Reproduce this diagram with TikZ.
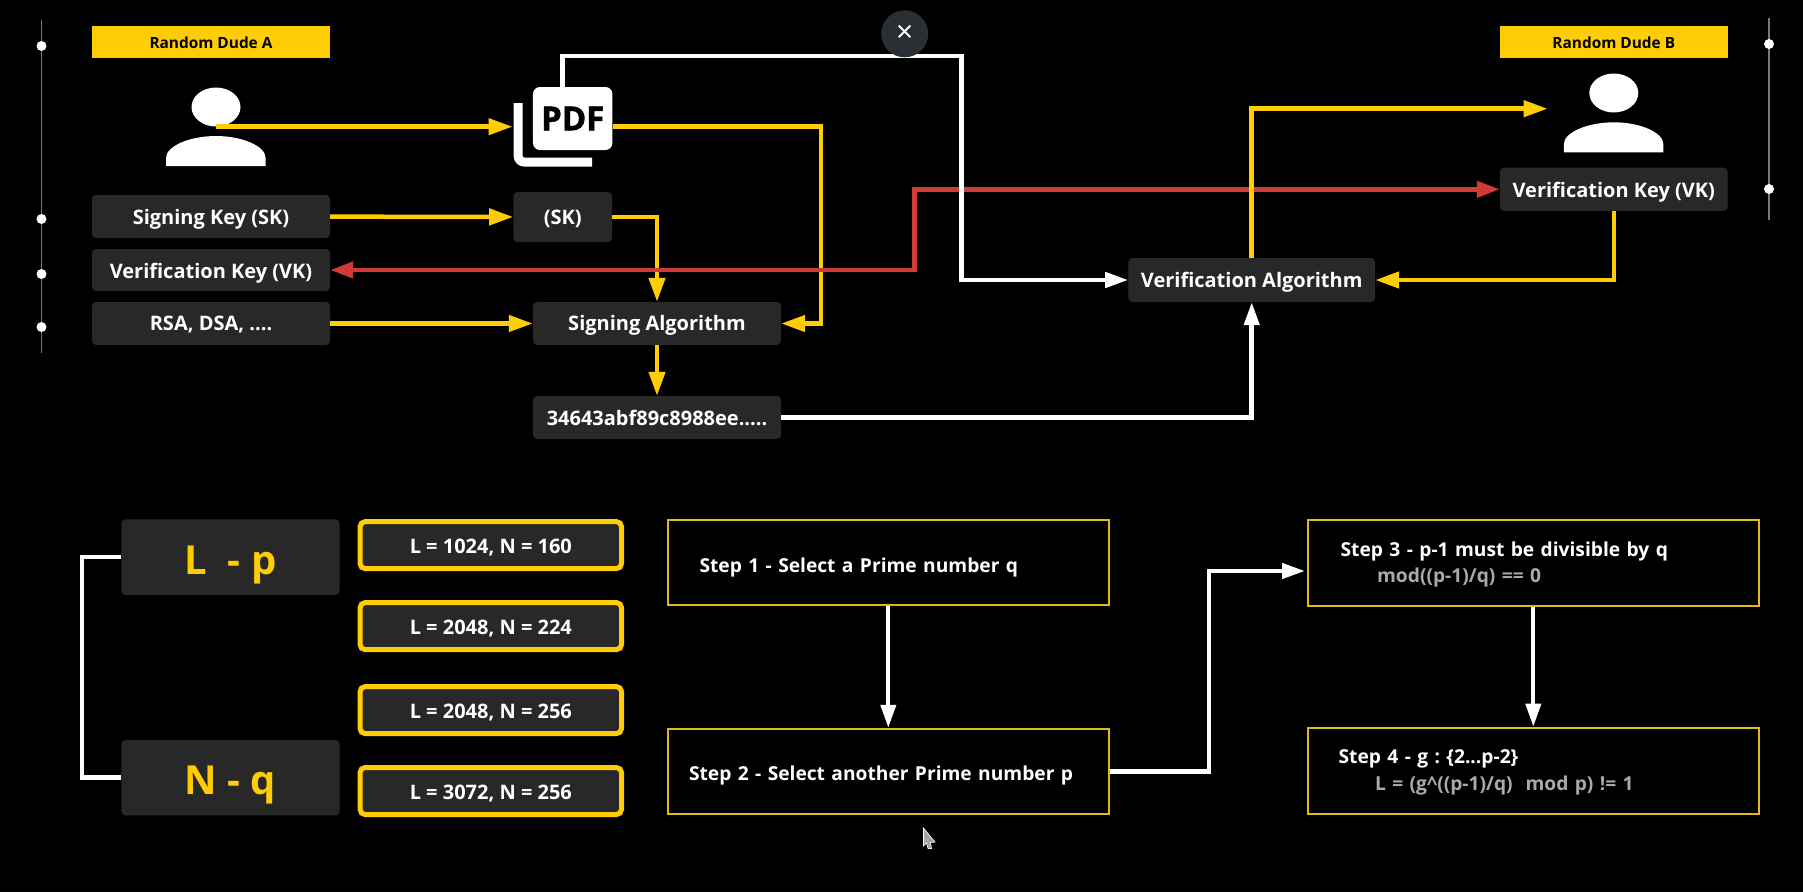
\documentclass[tikz,border=0pt]{standalone}
\usepackage{fontspec}
\setmainfont{Open Sans}
\usepackage{color}
\definecolor{myyellow}{RGB}{255,205,5}
\definecolor{myred}{RGB}{208,58,55}
\definecolor{mybox}{RGB}{40,40,40}
\definecolor{mystep}{RGB}{222,186,30}
\definecolor{myrail}{RGB}{120,120,120}
\definecolor{myclose}{RGB}{41,47,53}
\usepackage{tikz}
\usetikzlibrary{arrows.meta,positioning,shapes.geometric}
\tikzstyle{bannerbox}=[fill=myyellow,text=black,inner sep=0pt,text height=22pt,text depth=10pt,font=\fontsize{15.4}{17}\selectfont\bfseries]
\tikzstyle{keybox}=[fill=mybox,text=white,rounded corners=4pt,inner sep=0pt,text height=29pt,text depth=14pt,font=\fontsize{20}{24}\selectfont\bfseries]
\tikzstyle{namebox}=[fill=mybox,text=myyellow,rounded corners=4pt,inner sep=0pt,minimum width=218.3pt,text height=55pt,text depth=20.5pt,font=\fontsize{40}{44}\selectfont\bfseries]
\tikzstyle{sizebox}=[draw=myyellow,line width=5pt,fill=mybox,text=white,rounded corners=5pt,inner sep=0pt,minimum width=261.4pt,text height=32pt,text depth=15pt,font=\fontsize{20}{24}\selectfont\bfseries]
\tikzstyle{stepbox}=[draw=mystep,line width=2pt,text=white,inner ysep=0pt,align=left,font=\fontsize{19.2}{26.7}\selectfont\bfseries]
\tikzstyle{yline}=[draw=myyellow,line width=4.5pt,>={Triangle[length=24pt,width=16pt]}]
\tikzstyle{wline}=[draw=white,line width=4.5pt,>={Triangle[length=23pt,width=15pt]}]
\tikzstyle{rline}=[draw=myred,line width=4.5pt,>={Triangle[length=23pt,width=16pt]}]
\tikzstyle{raildot}=[fill=white,circle,minimum size=10pt,inner sep=0pt]
\tikzstyle{personhead}=[fill=white,ellipse,minimum width=49pt,minimum height=39pt,inner sep=0pt]
\newcommand{\mutedtext}[1]{{\color[RGB]{170,170,170}#1}}
\begin{document}
\frenchspacing
\begin{tikzpicture}[x=1pt,y=-1pt]
\useasboundingbox[fill=black] (0,0) rectangle (1803,892);
% side rails
\draw[myrail,line width=1.2pt] (41.5,20) -- (41.5,353);
\draw[myrail,line width=1.2pt] (1769,18) -- (1769,220);
\foreach \dotx/\doty in {41.5/46,41.5/219,41.5/274,41.5/327,1769/44,1769/189}
  \node [raildot] (dot\dotx-\doty) at (\dotx,\doty) {};
% the two dudes
\node [bannerbox,minimum width=238pt] (bannerA) at (211,42) {Random Dude A};
\node [bannerbox,minimum width=227.7pt] (bannerB) at (1613.8,42) {Random Dude B};
\node [personhead] (dudeA) at (216,107) {};
\node [personhead] (dudeB) at (1613.8,93) {};
\foreach \px/\py in {0/0,1397.8/-13.7}
  \fill[white,shift={(\px,\py)}] (166,166) -- (166,158) .. controls (166,146) and (190,136) .. (216,136)
    .. controls (242,136) and (265.6,146) .. (265.6,158) -- (265.6,166) -- cycle;
% pdf icon
\draw[white,line width=9pt,rounded corners=6pt] (518.2,103) |- (592,162);
\node [fill=white,text=black,rounded corners=7pt,inner sep=0pt,minimum width=79.5pt,minimum height=63pt,font=\fontsize{33}{35}\selectfont\bfseries\addfontfeature{FakeBold=1.5}] (pdf) at (572.7,118.5) {PDF};
% boxes of the top row
\node [keybox,minimum width=238pt] (sk) at (211,216.5) {Signing Key (SK)};
\node [keybox,minimum width=238pt,text height=29.2pt,text depth=12.8pt] (vka) at (211,270) {Verification Key (VK)};
\node [keybox,minimum width=238pt,text height=28.3pt,text depth=14.7pt] (rsa) at (211,323.5) {RSA, DSA, ....};
\node [keybox,minimum width=98.6pt,text height=32pt,text depth=18pt] (sksmall) at (562.7,217) {(SK)};
\node [keybox,minimum width=248pt,text height=28.3pt,text depth=14.7pt] (sa) at (657,323.5) {Signing Algorithm};
\node [keybox,minimum width=248pt] (hash) at (657,417.5) {34643abf89c8988ee.....};
\node [keybox,minimum width=246.6pt,text height=29.7pt,text depth=14.3pt] (va) at (1251.7,280) {Verification Algorithm};
\node [keybox,minimum width=227.7pt,text height=29.8pt,text depth=13.5pt] (vkb) at (1613.8,189.3) {Verification Key (VK)};
% turning points
\coordinate (pdfin) at (512.5,126.7);
\coordinate (pdfturn) at (821,126.7);
\coordinate (pdfup) at (562.5,56);
\coordinate (pdfover) at (961.7,56);
\coordinate (redturn) at (914.5,230);
\coordinate (dudeBin) at (1547.6,108.7);
\coordinate (lowturn) at (1208.8,670);
\coordinate (s3in) at (1305,571);
\coordinate (brk) at (82,667);
% connectors of the top row
\draw[yline,->] (dudeA.south) -- (pdfin);
\draw[yline,->] (pdf.east |- pdfin) -- (pdfturn) |- (sa.east);
\draw[yline,->] (sk) -- (sksmall);
\draw[yline,->] (sksmall.east) -| (sa.north);
\draw[rline,<->] (vka.east) -| (redturn) |- (vkb.west);
\draw[yline,->] (rsa) -- (sa);
\draw[yline,->] (sa) -- (hash);
\draw[wline,->] (pdfup |- pdf.north) -- (pdfup) -- (pdfover) |- (va.west);
\draw[wline,->] (hash.east) -| (va.south);
\draw[yline,->] (va.north) |- (dudeBin);
\draw[yline,->] (vkb.south) |- (va.east);
% close button
\node [fill=myclose,circle,minimum size=47pt,inner sep=0pt,text=white,font=\fontsize{30}{30}\selectfont] (close) at (904.7,33.8) {×};
% lower left
\node [namebox] (lp) at (230.5,557.1) {L\ \ - p};
\node [namebox] (nq) at (230.5,777.7) {N - q};
\draw[wline] (lp.west) -| (brk) |- (nq.west);
\node [sizebox] (sizeA) at (490.8,545.1) {L = 1024, N = 160};
\node [sizebox] (sizeB) at (490.8,626.1) {L = 2048, N = 224};
\node [sizebox] (sizeC) at (490.8,710.1) {L = 2048, N = 256};
\node [sizebox] (sizeD) at (490.8,791) {L = 3072, N = 256};
% steps
\node [stepbox,inner xsep=31.5pt,text width=377.6pt,text height=52.7pt,text depth=32pt] (stepA) at (888.3,562.6) {Step 1 - Select a Prime number q};
\node [stepbox,inner xsep=21pt,text width=398.6pt,text height=51.3pt,text depth=33.7pt] (stepB) at (888.3,771.3) {Step 2 - Select another Prime number p};
\node [stepbox,inner xsep=33pt,text width=385.4pt,text height=35.7pt,text depth=50.3pt] (stepC) at (1533.3,563.3) {Step 3 - p-1 must be divisible by q\\\hspace*{36.5pt}\mutedtext{mod((p-1)/q) == 0}};
\node [stepbox,inner xsep=31pt,text width=389.4pt,text height=36.3pt,text depth=50pt] (stepD) at (1533.3,770.8) {Step 4 - g : \{2...p-2\}\\\hspace*{36.5pt}\mutedtext{L = (g\^{}((p-1)/q)\ \ mod p) != 1}};
\draw[wline,line width=4pt,->] (stepA) -- (stepB);
\draw[wline,->] (stepB.east) -| (lowturn) |- (s3in);
\draw[wline,line width=4pt,->] (stepC) -- (stepD);
% mouse pointer
\draw[fill=gray!70,draw=white,line width=0.6pt] (923.5,828) -- (935,842) -- (930.5,842.5) -- (931.5,848.5) -- (928,848.5) -- (926.5,843) -- (923.5,846) -- cycle;
\end{tikzpicture}
\end{document}
